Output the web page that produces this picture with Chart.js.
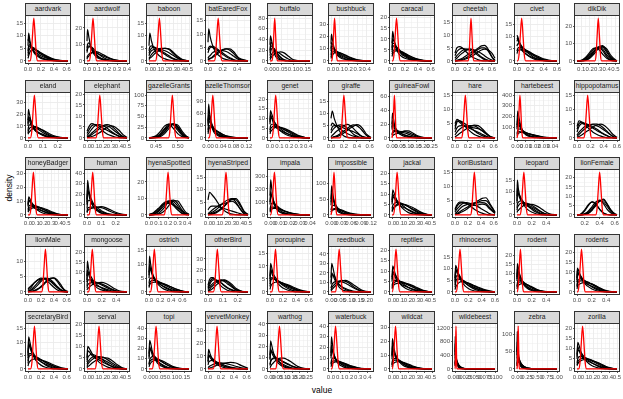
<!DOCTYPE html>
<html>
<head>
<meta charset="utf-8">
<script src="https://cdn.jsdelivr.net/npm/chart.js@4.4.1/dist/chart.umd.min.js"></script>
<style>
html,body{margin:0;padding:0;background:#fff;}
body{width:623px;height:399px;position:relative;overflow:hidden;font-family:"Liberation Sans",Arial,sans-serif;}
.strip{position:absolute;box-sizing:border-box;background:#d9d9d9;border:1px solid #333;display:flex;justify-content:center;align-items:center;overflow:hidden;}
.strip span{flex:0 0 auto;white-space:nowrap;font-size:6.8px;color:#1a1a1a;line-height:1;}
canvas{position:absolute;}
.title{position:absolute;font-size:8.5px;color:#000;white-space:nowrap;transform-origin:center center;}
</style>
</head>
<body>
<div class="title" style="left:322px;top:390px;transform:translate(-50%,-50%);">value</div>
<div class="title" style="left:9px;top:188px;transform:translate(-50%,-50%) rotate(-90deg);">density</div>
<script>
const animals = ['aardvark','aardwolf','baboon','batEaredFox','buffalo','bushbuck','caracal','cheetah','civet','dikDik',
'eland','elephant','gazelleGrants','gazelleThomsons','genet','giraffe','guineaFowl','hare','hartebeest','hippopotamus',
'honeyBadger','human','hyenaSpotted','hyenaStriped','impala','impossible','jackal','koriBustard','leopard','lionFemale',
'lionMale','mongoose','ostrich','otherBird','porcupine','reedbuck','reptiles','rhinoceros','rodent','rodents',
'secretaryBird','serval','topi','vervetMonkey','warthog','waterbuck','wildcat','wildebeest','zebra','zorilla'];

const xTickLabels = [
['0.0','0.2','0.4','0.6'],['0.0','0.1','0.2','0.3','0.4'],['0.0','0.1','0.2','0.3','0.4','0.5'],['0.0','0.2','0.4'],['0.00','0.05','0.10','0.15'],
['0.0','0.1','0.2','0.3','0.4'],['0.0','0.2','0.4','0.6'],['0.0','0.2','0.4','0.6'],['0.0','0.2','0.4','0.6'],['0.1','0.2','0.3','0.4','0.5'],
['0.0','0.1','0.2'],['0.0','0.1','0.2','0.3','0.4','0.5'],['0.45','0.50'],['0.00','0.04','0.08','0.12'],['0.0','0.1','0.2','0.3','0.4'],
['0.0','0.2','0.4','0.6'],['0.00','0.05','0.10','0.15','0.20','0.25'],['0.0','0.2','0.4','0.6'],['0.00','0.01','0.02','0.03','0.04'],['0.0','0.2','0.4','0.6'],
['0.0','0.1','0.2','0.3','0.4','0.5'],['0.0','0.1','0.2'],['0.0','0.1','0.2','0.3','0.4'],['0.0','0.1','0.2','0.3','0.4','0.5'],['0.00','0.01','0.02','0.03','0.04'],
['0.00','0.03','0.06','0.09','0.12'],['0.0','0.1','0.2','0.3','0.4','0.5'],['0.0','0.2','0.4','0.6'],['0.0','0.2','0.4'],['0.2','0.4','0.6'],
['0.0','0.2','0.4','0.6'],['0.0','0.2','0.4'],['0.0','0.2','0.4','0.6'],['0.0','0.1','0.2'],['0.0','0.2','0.4','0.6'],
['0.00','0.05','0.10','0.15','0.20'],['0.0','0.1','0.2','0.3','0.4','0.5'],['0.0','0.2','0.4','0.6'],['0.0','0.2','0.4'],['0.0','0.2','0.4'],
['0.0','0.2','0.4','0.6'],['0.0','0.1','0.2','0.3','0.4','0.5'],['0.00','0.05','0.10','0.15'],['0.0','0.2','0.4','0.6'],['0.00','0.05','0.10','0.15','0.20','0.25'],
['0.0','0.1','0.2','0.3','0.4'],['0.0','0.1','0.2','0.3','0.4','0.5'],['0.000','0.025','0.050','0.075','0.100'],['0.00','0.25','0.50','0.75','1.00'],['0.0','0.1','0.2','0.3','0.4','0.5']
];

const yTickLabels = [
['0','5','10','15'],['0','10','20'],['0','5','10','15'],['0','5','10','15'],['0','20','40','60','80'],
['0','10','20','30'],['0','5','10','15','20'],['0','5','10','15'],['0','5','10','15'],['0','10','20'],
['0','10','20','30'],['0','5','10','15','20'],['0','25','50','75','100'],['0','30','60','90'],['0','5','10','15','20'],
['0','5','10','15'],['0','20','40','60'],['0','5','10','15'],['0','100','200','300','400'],['0','5','10','15'],
['0','10','20','30'],['0','10','20','30','40'],['0','10','20'],['0','5','10','15'],['0','100','200','300'],
['0','50','100'],['0','5','10','15','20'],['0','5','10','15'],['0','5','10','15'],['0','5','10','15','20'],
['0','5','10'],['0','5','10','15','20'],['0','5','10','15'],['0','10','20','30'],['0','5','10','15'],
['0','10','20','30','40'],['0','5','10','15','20'],['0','5','10','15'],['0','5','10','15','20'],['0','5','10','15','20'],
['0','5','10','15'],['0','5','10','15','20'],['0','10','20','30','40'],['0','10','20','30'],['0','10','20','30','40'],
['0','10','20','30','40'],['0','10','20','30'],['0','400','800','1200'],['0','50','100'],['0','5','10','15','20']
];

// x positions of the black (posterior) density curves, one grid per panel
const curveX = [
[0,0.01,0.03,0.06,0.1,0.15,0.2,0.3,0.4,0.5,0.62],
[0,0.005,0.02,0.04,0.07,0.1,0.14,0.2,0.26,0.32,0.4],
[0,0.01,0.03,0.06,0.1,0.15,0.2,0.25,0.3,0.35,0.42,0.5],
[0,0.01,0.03,0.06,0.1,0.15,0.2,0.25,0.3,0.35,0.42,0.55],
[0,0.002,0.006,0.012,0.02,0.03,0.045,0.06,0.08,0.1,0.13,0.17],
[0,0.005,0.015,0.03,0.05,0.08,0.12,0.17,0.23,0.3,0.38,0.45],
[0,0.01,0.03,0.06,0.1,0.15,0.2,0.28,0.36,0.45,0.53,0.62],
[0,0.03,0.07,0.12,0.18,0.25,0.32,0.38,0.43,0.48,0.54,0.6,0.65],
[0,0.01,0.03,0.06,0.1,0.15,0.2,0.27,0.35,0.43,0.52,0.6],
[0.05,0.1,0.15,0.2,0.25,0.3,0.35,0.4,0.45,0.5,0.52],
[0,0.003,0.01,0.02,0.035,0.05,0.07,0.1,0.13,0.17,0.22,0.27],
[0,0.03,0.06,0.1,0.15,0.2,0.25,0.3,0.35,0.4,0.45,0.5],
[0.434,0.45,0.46,0.47,0.48,0.49,0.5,0.51,0.52,0.526],
[0,0.002,0.005,0.01,0.015,0.02,0.03,0.04,0.05,0.065,0.08,0.1,0.125],
[0,0.005,0.02,0.04,0.07,0.1,0.14,0.19,0.25,0.31,0.37,0.42],
[0,0.02,0.05,0.1,0.15,0.2,0.25,0.3,0.35,0.4,0.45,0.5,0.55,0.62],
[0,0.003,0.008,0.015,0.025,0.04,0.06,0.08,0.1,0.13,0.16,0.2,0.25],
[0,0.03,0.07,0.12,0.18,0.24,0.3,0.36,0.42,0.48,0.55,0.62],
[0,0.0008,0.002,0.004,0.006,0.009,0.013,0.018,0.024,0.03,0.037,0.045],
[0,0.03,0.07,0.12,0.18,0.24,0.3,0.36,0.42,0.48,0.54,0.6],
[0,0.01,0.03,0.06,0.1,0.15,0.2,0.26,0.32,0.38,0.45,0.52],
[0,0.004,0.012,0.025,0.04,0.06,0.08,0.1,0.13,0.16,0.2,0.24,0.28],
[0,0.05,0.1,0.14,0.18,0.22,0.26,0.3,0.34,0.38,0.42],
[0,0.02,0.05,0.1,0.15,0.2,0.25,0.3,0.35,0.4,0.45,0.5],
[0,0.0007,0.0018,0.0035,0.006,0.009,0.013,0.018,0.024,0.03,0.04],
[0,0.002,0.005,0.01,0.015,0.02,0.03,0.04,0.05,0.065,0.08,0.1,0.12],
[0,0.01,0.03,0.06,0.1,0.15,0.2,0.26,0.32,0.38,0.44,0.5],
[0,0.03,0.07,0.12,0.18,0.24,0.3,0.36,0.42,0.48,0.54,0.62],
[0,0.005,0.02,0.05,0.09,0.14,0.2,0.26,0.32,0.38,0.45,0.55],
[0.1,0.15,0.2,0.25,0.3,0.35,0.4,0.45,0.5,0.55,0.6,0.63],
[0,0.05,0.1,0.15,0.2,0.25,0.3,0.35,0.4,0.45,0.5,0.56,0.62],
[0,0.005,0.02,0.05,0.09,0.14,0.2,0.26,0.32,0.38,0.45,0.55],
[0,0.01,0.03,0.06,0.1,0.15,0.2,0.27,0.35,0.43,0.52,0.62,0.72],
[0,0.01,0.02,0.035,0.05,0.07,0.09,0.11,0.13,0.16,0.19,0.23,0.27],
[0,0.01,0.03,0.06,0.1,0.15,0.2,0.27,0.35,0.43,0.52,0.62],
[0,0.004,0.01,0.02,0.03,0.045,0.06,0.08,0.1,0.12,0.15,0.18,0.22],
[0,0.01,0.03,0.06,0.1,0.15,0.2,0.26,0.32,0.38,0.44,0.5],
[0,0.01,0.03,0.06,0.1,0.15,0.2,0.27,0.35,0.43,0.52,0.6],
[0,0.005,0.02,0.04,0.07,0.1,0.14,0.19,0.25,0.32,0.42,0.55],
[0,0.005,0.02,0.05,0.09,0.14,0.2,0.26,0.32,0.38,0.45,0.55],
[0,0.01,0.03,0.06,0.1,0.15,0.2,0.27,0.35,0.43,0.52,0.62],
[0,0.01,0.03,0.06,0.1,0.15,0.2,0.26,0.32,0.38,0.44,0.5],
[0,0.003,0.008,0.015,0.025,0.035,0.05,0.065,0.08,0.1,0.13,0.17],
[0,0.01,0.03,0.06,0.1,0.15,0.2,0.27,0.35,0.43,0.52,0.62],
[0,0.004,0.01,0.02,0.035,0.05,0.07,0.09,0.12,0.15,0.19,0.23,0.27],
[0,0.005,0.015,0.03,0.05,0.08,0.12,0.17,0.23,0.3,0.37,0.44],
[0,0.005,0.02,0.04,0.07,0.1,0.14,0.19,0.25,0.32,0.4,0.5],
[0,0.0005,0.0012,0.0025,0.004,0.006,0.009,0.013,0.018,0.025,0.035,0.05,0.07,0.1],
[0,0.005,0.015,0.03,0.05,0.08,0.12,0.18,0.26,0.36,0.5,0.7,1.0],
[0,0.01,0.03,0.06,0.1,0.15,0.2,0.26,0.32,0.38,0.44,0.5]
];

// density values of the black curves at curveX, per panel
const blackCurves = [
[[6,11,8,5,3,1.8,1,0.4,0.1,0,0],[8,9,7,5,3.5,2.2,1.4,0.5,0.1,0,0],[3,5,6,5.5,4.5,3.5,2.6,1.2,0.4,0.1,0],[2,3.5,5,5.5,5,4,3,1.5,0.5,0.1,0],[4,6,6.5,5,3.5,2.8,2,1,0.3,0,0],[1,2,3.5,4.5,4.5,4,3.2,1.8,0.7,0.2,0]],
[[12,19,14,8,4,2,1,0.3,0.1,0,0],[8,9,9,8.5,6,3.5,1.5,0.4,0.1,0,0],[5,7,8.5,8.5,7,5,3,1,0.2,0,0],[1,2,3,4.5,5.5,5.5,4.5,2.5,1,0.2,0],[2,3,4,5,5,4.5,3.5,2,0.8,0.2,0],[6,10,11,8,5,3,1.5,0.5,0.1,0,0]],
[[6,11,8,5,3,1.5,0.8,0.3,0.1,0,0,0],[3,4,5,5.5,5,4,3,2,1,0.4,0.1,0],[1,1.5,2.5,3.5,4.5,5,5,4.5,3,1.5,0.3,0],[0.5,1,1.5,2.5,3.5,4.5,5,4.8,3.5,2,0.5,0],[4,5.5,6,5.5,4.5,3.5,2.5,1.5,0.8,0.3,0.05,0],[2,3,4,4.5,4.8,4.5,4,3.2,2.2,1.2,0.3,0]],
[[7,12,9,6,3.5,2,1,0.5,0.2,0,0,0],[4,5,5.5,5,4.5,3.5,2.5,1.5,0.8,0.3,0.05,0],[0.5,0.8,1,1.5,2.5,3.5,4.2,4.5,4,2.8,0.8,0],[0.3,0.5,0.8,1.2,2,3,4,4.5,4.5,3.5,1.2,0],[3,4,5,5.5,5,4,3,2,1.2,0.5,0.1,0],[1,1.5,2,3,3.5,3.8,3.8,3.5,2.8,1.8,0.5,0]],
[[30,47,40,25,12,5,2,0.5,0.1,0,0,0],[20,30,35,28,18,9,3,1,0.2,0,0,0],[10,15,22,25,22,15,7,2,0.5,0,0,0],[2,4,7,10,13,15,17,15,8,2,0.2,0],[15,25,28,25,18,12,6,2,0.5,0.1,0,0],[5,8,12,16,18,17,13,8,3,0.8,0,0]],
[[14,22,18,12,7,4,2,1,0.3,0.05,0,0],[10,15,14,11,8,5,3,1.5,0.5,0.1,0,0],[5,8,10,10,9,7,5,3,1.2,0.3,0,0],[3,5,7,8,8,7,6,4,2,0.6,0.1,0],[8,12,12,10,8,6,4,2.5,1,0.3,0.05,0],[2,3,4.5,6,7,7,6,4.5,2.5,0.8,0.1,0]],
[[8,13.5,10,6,3.5,2,1.2,0.5,0.2,0,0,0],[6,10,9,7,5,3,2,0.8,0.3,0.1,0,0],[4,6,7,6.5,5.5,4,3,1.5,0.6,0.2,0,0],[2,3,4,4.5,4.5,4,3.2,2,1,0.4,0.1,0],[5,8,8,6,4.5,3.5,2.5,1.2,0.5,0.1,0,0],[3,4,5,5,4.8,4.2,3.5,2.2,1.2,0.5,0.1,0]],
[[3,5,5.5,5,3.5,2,1,0.4,0.1,0,0,0,0],[1,2,3,4,4.5,4.5,3.5,2.5,1.5,0.8,0.2,0,0],[0,0.2,0.5,1,2,3,4,5,5.8,6,4.5,1.5,0],[0,0.1,0.3,0.6,1.2,2.2,3.5,4.5,5,5,3.8,1.5,0.2],[2,3.5,4.5,4.8,4.5,4,3,2,1.2,0.5,0.1,0,0],[0.5,1,2,3,4,4.5,4.2,3.5,2.8,2,1,0.3,0],[0,0,0.1,0.3,0.8,1.5,2.5,3.5,4.2,4.5,4.2,3,1]],
[[10.5,10,8,6,4,2.5,1.5,0.6,0.2,0,0,0],[8,9,8,6.5,5,3.5,2.5,1.2,0.4,0.1,0,0],[6,7,7,6,5,4,3,1.8,0.8,0.2,0,0],[4,5,5.5,5.5,5,4.2,3.5,2.2,1,0.3,0,0],[9,9.5,7,5,3.5,2.5,1.8,1,0.4,0.1,0,0],[3,4,4.5,4.5,4.2,3.8,3.2,2.4,1.4,0.6,0.1,0]],
[[0,0.2,1.5,4,7,8,6,2.5,0.5,0,0],[0,0.1,0.5,2,5,8,9,6,2,0.3,0],[0,0.3,2,5,7.5,7,4,1.5,0.3,0,0],[0,0,0.3,1.5,4,7,8.5,7,3,0.6,0],[0,0.1,1,3,6,8,7,3.5,1,0.1,0],[0,0.05,0.5,2.5,5.5,7.5,8,5,1.5,0.2,0]],
[[15,24,20,14,9,6,4,2,0.8,0.2,0,0],[10,16,17,14,10,7,4.5,2.5,1,0.3,0,0],[6,9,11,11,10,9,7,4.5,2.5,0.8,0.1,0],[4,6,8,9,9.5,9.5,8.5,6,3.5,1.2,0.2,0],[12,18,15,11,8,6,4.5,3,1.5,0.5,0.1,0],[3,4,5,6.5,8,8.5,8,6.5,4.5,2,0.4,0]],
[[3,5.5,6.5,6,4.5,3,1.8,1,0.4,0.1,0,0],[1,2.5,4,5.5,6,5.5,4.5,3,1.8,0.8,0.2,0],[0.3,0.8,1.5,2.5,4,5.5,6,5.5,4,2,0.6,0],[0.1,0.3,0.6,1.2,2.2,3.5,4.8,5.5,5,3.5,1.5,0.2],[2,4,5.5,6,5.5,4.5,3.5,2.5,1.5,0.7,0.2,0],[0.5,1.2,2.2,3.5,5,5.5,5.5,4.5,3,1.6,0.5,0]],
[[0,3,10,22,32,30,18,6,1,0],[0,1,5,14,27,33,25,10,2,0],[0,5,15,28,32,22,10,3,0.5,0],[0,0.5,3,10,22,32,30,16,4,0.5],[0,2,8,20,30,32,22,8,1.5,0],[0,1.5,6,16,28,33,26,12,3,0.2]],
[[40,83,60,35,20,12,6,3,1.5,0.5,0.1,0,0],[30,55,55,40,28,18,9,4,2,0.6,0.1,0,0],[20,35,40,35,28,22,14,8,4,1.2,0.3,0,0],[10,18,25,28,26,22,16,11,7,3,1,0.2,0],[35,60,45,30,22,16,10,6,3.5,1.5,0.4,0,0],[15,25,30,28,24,20,15,11,7,3.5,1.2,0.2,0]],
[[9,14,12,9,6,4,2.5,1.2,0.4,0.1,0,0],[7,10,10,8.5,6.5,5,3.5,2,0.8,0.2,0,0],[4,6,7,7,6.5,5.5,4.5,3,1.5,0.5,0.1,0],[2,3,4,5,5.5,5.5,5,4,2.5,1,0.2,0],[8,12,10,7,5,4,3,2,1,0.3,0,0],[3,4.5,5.5,6,6,5.5,4.5,3.5,2,0.8,0.2,0]],
[[8,11,8,4.5,2,0.8,0.3,0.1,0,0,0,0,0,0],[2,3,4,5,5.3,5,4,2.8,1.5,0.7,0.2,0,0,0],[0.5,1,1.8,3,4,5,5.5,5,3.8,2.4,1.2,0.4,0.1,0],[0,0.2,0.5,1,1.8,2.8,3.8,4.8,5.3,5,4,2.5,1,0],[0,0.1,0.3,0.6,1.2,2,3,4,4.8,5.4,5,3.5,1.5,0.2],[3,4.5,5,5,4.5,4,3.5,3,2.5,1.8,1,0.4,0.1,0],[5,6,5.5,4.5,3.5,2.5,1.8,1.2,0.7,0.3,0.1,0,0,0]],
[[20,36,30,20,12,7,4,2,1,0.3,0,0,0],[12,20,22,18,13,9,6,4,2.5,1,0.3,0,0],[5,8,10,11,11,10,9,9,8,5,2,0.3,0],[2,3,4,5,6,7,8.5,10,10,7,3,0.5,0],[15,25,20,14,10,8,6,4,2.5,1.2,0.4,0,0],[4,6,8,9,9,8.5,8,7,5.5,3,1,0.1,0]],
[[5,6.5,6,5,3.5,2.2,1.2,0.6,0.2,0,0,0],[3,5.5,6,5.5,4.5,3.5,2.5,1.5,0.8,0.3,0,0],[1,2,3,3.8,4.2,4.3,4.2,3.5,2.5,1.4,0.4,0],[0.3,0.8,1.5,2.3,3.2,4,4.5,4.3,3.2,1.8,0.5,0],[4,6,5.5,4.5,3.8,3.2,2.6,2,1.3,0.6,0.1,0],[2,3.5,4.2,4.3,4,3.7,3.5,3.2,2.5,1.5,0.4,0]],
[[120,250,200,120,70,35,15,5,1,0,0,0],[80,150,150,110,75,45,22,8,2,0.3,0,0],[40,70,85,80,70,55,38,22,10,3,0.5,0],[20,35,45,50,50,45,38,28,16,6,1,0],[100,180,130,90,60,40,25,12,4,1,0,0],[30,50,60,62,58,50,40,30,18,8,2,0]],
[[4,6,5.5,4.5,3.2,2,1.2,0.6,0.2,0,0,0],[2,4,5,5,4.5,3.8,3,2,1.2,0.5,0.1,0],[0.5,1.2,2.2,3.2,4.2,4.8,4.8,4.2,3,1.6,0.5,0],[0.2,0.5,1,1.8,2.8,3.8,4.5,4.8,4.2,2.8,1.2,0.2],[3,5,5.5,5,4.2,3.4,2.5,1.8,1,0.4,0.1,0],[1,2,3,4,4.6,4.6,4.2,3.5,2.5,1.4,0.5,0]],
[[8,13,11,7,4.5,2.5,1.2,0.5,0.1,0,0,0],[6,10,10,8,6,4,2.5,1.2,0.4,0.1,0,0],[4,6,7,7,6.5,5.5,4,2.2,1,0.3,0,0],[2,3,4,5,5.5,5.5,4.8,3.5,2,0.8,0.1,0],[7,11,9,6,4.5,3.5,2.5,1.5,0.7,0.2,0,0],[3,4.5,5.5,6,6,5,4,2.8,1.5,0.6,0.1,0]],
[[15,33,25,15,9,5,3,1.5,0.5,0.1,0,0,0],[10,22,22,17,12,7,4,2,0.7,0.2,0,0,0],[6,12,14,13,11,8,6,4,2,0.8,0.2,0,0],[2,4,5,6,6.5,7,7.5,8,7,5,2.5,0.8,0],[12,26,20,13,9,6,4.5,3,1.5,0.6,0.1,0,0],[3,6,7,7.5,7.5,7.5,7.5,7,5.5,3.5,1.5,0.4,0]],
[[0,0.5,2.5,5.5,8,8.5,6.5,3.5,1.2,0.3,0],[0,0.2,1,3,6,8.5,9,7,3.5,1,0.1],[0.1,1,3.5,6.5,8,7.5,5.5,3,1.2,0.3,0],[0,0.1,0.5,1.5,3.5,6.5,8.5,8.5,5.5,2,0.3],[0,0.4,2,4.5,7,8.5,8,5.5,2.5,0.7,0.1],[0.2,1.5,4,6,7,7,6,4.5,2.5,1,0.2]],
[[6,9,8,6,3.5,1.8,0.8,0.3,0.1,0,0,0],[2,3,3.5,3.5,3,2.5,2,1.5,1,0.5,0.1,0],[0.2,0.5,1,2,3.5,5,6,6.5,5,2.5,0.5,0],[0.1,0.3,0.6,1.2,2.2,3.5,5,6.2,6,3.8,1.2,0.1],[0.5,1,1.8,3,4,4.5,5,5.5,4.5,2.5,0.6,0],[0,0.1,0.3,0.8,1.8,3.2,5,6.5,6.5,4.5,1.5,0.2]],
[[150,270,200,110,55,25,10,3,0.5,0,0],[80,140,150,110,70,40,20,8,2,0.3,0],[40,70,90,90,75,55,35,18,6,1.5,0],[20,35,45,50,50,45,35,22,10,3,0.2],[100,180,140,90,55,30,15,6,1.5,0.2,0],[30,50,60,60,55,45,32,20,8,2,0]],
[[50,92,70,40,22,12,5,2,0.5,0,0,0,0],[30,55,55,42,30,20,9,4,1.5,0.3,0,0,0],[15,25,30,30,27,22,14,8,4,1,0.2,0,0],[8,12,15,17,18,17,14,10,6,2.5,0.8,0.1,0],[40,70,55,35,22,15,8,4,2,0.5,0.1,0,0],[10,15,18,20,20,19,16,12,8,4,1.5,0.2,0]],
[[7,12,10,7,4.5,2.5,1.2,0.5,0.1,0,0,0],[5,8,8.5,7,5.5,4,2.5,1.2,0.4,0.1,0,0],[3,4.5,5.5,6,5.8,5,4,2.5,1.2,0.4,0.1,0],[1.5,2.5,3.5,4.5,5,5,4.5,3.5,2.2,1,0.3,0],[6,10,8,6,4.5,3.5,2.5,1.5,0.7,0.2,0,0],[2,3,4,5,5.5,5,4,2.8,1.6,0.7,0.1,0]],
[[2,3.5,4.5,4.5,4,3,2,1.2,0.6,0.2,0,0],[1,2,3,4,4.3,4,3.5,2.8,2,1.2,0.4,0],[0.1,0.3,0.6,1.2,2,3,4,5,5.8,6,4,1],[0.2,0.5,1,1.8,2.6,3.4,4,4.5,5,5,3.5,0.8],[1.5,3,4,4.3,4,3.6,3.3,3.5,3.8,3.5,2,0.5],[0.5,1,2,3,3.6,4,4.2,4.2,4.3,4,2.5,0.6]],
[[8,15,11,7,4.5,2.5,1.2,0.5,0.1,0,0,0],[5,9,9,7.5,5.5,4,2.5,1.2,0.4,0.1,0,0],[2,3,4,5,5.2,5,4.2,3,1.6,0.6,0.1,0],[1,1.5,2,3,4,4.5,4.5,4,3,1.6,0.4,0],[6,12,9,6.5,5,4,3,1.8,0.8,0.2,0,0],[3,4.5,5.5,6,5.5,4.5,3.5,2.5,1.5,0.6,0.1,0]],
[[0,0.3,2,5,7,6,3,1,0.2,0,0,0],[0,0.1,0.6,2,4.5,7,8,6,3,1,0.2,0],[0,0,0.3,1,3,5.5,7.5,8.5,6,2.5,0.5,0.1],[0,0.5,2.5,5.5,7,5.5,3,1,0.2,0,0,0],[0,0,0.2,0.8,2.5,5,7.5,8,5.5,2.5,0.6,0.1],[0,0.1,0.5,1.5,3.5,6,7.5,7,4.5,1.8,0.3,0]],
[[0.5,1.5,3,4,4.5,4.3,3.5,2.5,1.5,0.7,0.2,0,0],[0.1,0.5,1.2,2.2,3.4,4.3,4.5,4,3,1.8,0.8,0.2,0],[0,0.2,0.5,1,1.8,2.8,3.8,4.5,4.5,3.5,2,0.5,0],[1,2,3,3.8,4.2,4.3,4,3.5,2.8,1.8,0.9,0.2,0],[0.2,0.8,1.8,3,4,4.5,4.2,3.4,2.4,1.4,0.6,0.1,0],[0,0.1,0.3,0.8,1.5,2.5,3.5,4.3,4.6,4,2.6,0.8,0.1]],
[[8,15.5,12,7,4,2,1,0.4,0.1,0,0,0],[5,9,10,8,5.5,3.5,2,0.9,0.3,0.1,0,0],[2,3,4,4.5,4.8,4.5,4,3,1.8,0.8,0.2,0],[1,1.5,2,3,4,4.6,4.8,4.2,3,1.6,0.4,0],[6,11,9,6,4,3,2.2,1.4,0.7,0.2,0,0],[3,5,6,6,5.5,4.5,3.5,2.4,1.4,0.6,0.1,0]],
[[7,13,10,7,4.5,3,2,1,0.4,0.1,0,0,0],[5,8,8,6.5,5,3.8,2.8,1.8,0.9,0.3,0.1,0,0],[3,4.5,5,5,4.6,4,3.4,2.6,1.8,1,0.4,0.1,0],[1.5,2.5,3,3.4,3.5,3.4,3.2,2.8,2.2,1.5,0.8,0.2,0],[6,10,8,6,4.5,3.5,2.7,1.9,1.2,0.6,0.2,0,0],[2,3,3.8,4.2,4.2,3.9,3.5,2.9,2.2,1.5,0.7,0.2,0]],
[[6,11,13,13,11,8,5,3,1.5,0.5,0.1,0,0],[3,6,9,11,11,10,8,5.5,3.5,1.5,0.5,0,0],[1,2,4,6,8,10,11,10.5,9,5.5,2,0.3,0],[0.5,1,2,3.5,5.5,8,10,11,10,7,3,0.5,0],[4,8,11,12,11,9.5,8,6,4,2,0.6,0.1,0],[2,4,6,8,9.5,10.5,10.5,9.5,7.5,4.5,1.8,0.3,0]],
[[6,11,9,6,4,2.5,1.5,0.7,0.2,0,0,0],[4,8,8,6.5,5,3.6,2.5,1.4,0.6,0.2,0,0],[2,4,5,5,4.6,4,3.3,2.4,1.4,0.6,0.1,0],[1,2,3,3.5,3.8,3.7,3.4,2.8,2,1.1,0.4,0],[5,9,7,5.5,4.4,3.5,2.8,1.9,1.1,0.5,0.1,0],[3,5,5.5,5,4.4,3.8,3.2,2.4,1.6,0.8,0.2,0]],
[[15,30,26,17,10,5,2.5,1,0.3,0,0,0,0],[8,15,18,16,12,8,5,2.5,1,0.3,0,0,0],[2,4,6,8,10,11.5,12,11,9,6,2.5,0.5,0],[1,2,3.5,5.5,7.5,10,11.5,12,10.5,8,4,1,0],[10,20,18,13,10,7.5,5.5,3.5,2,0.8,0.2,0,0],[4,7,9,10.5,11,11,10.5,9,7,4.5,1.8,0.3,0]],
[[7,12.5,10,6.5,4,2.2,1.1,0.4,0.1,0,0,0],[5,8.5,8.5,7,5,3.5,2.2,1.1,0.4,0.1,0,0],[3,4.5,5.5,5.5,5,4.2,3.3,2.2,1.1,0.4,0.1,0],[1.5,2.5,3.5,4,4.3,4.2,3.8,3,1.9,0.9,0.3,0],[6,10,8,5.5,4,3,2.2,1.3,0.6,0.2,0,0],[2,3.5,4.5,5,5,4.5,3.6,2.6,1.5,0.7,0.2,0]],
[[6,11.5,10,7,4.5,2.6,1.5,0.6,0.2,0,0,0],[4,8,9,7.5,5.5,4,2.8,1.5,0.6,0.2,0,0],[3,5.5,7,6.5,5.5,4.5,3.5,2.2,1.2,0.5,0.1,0],[1,2,3,4,4.4,4.2,3.8,3,2,1.1,0.4,0],[5,10,8.5,6.5,5,3.8,2.9,1.9,1,0.4,0.1,0],[2,4,5.5,5.5,5,4.4,3.7,2.7,1.7,0.8,0.2,0]],
[[8,15.5,13,9,5.5,3.5,2,0.9,0.3,0.05,0,0],[6,11,11,9,6.5,4.5,2.8,1.4,0.5,0.1,0,0],[3,5,6.5,6.5,6,5,3.8,2.4,1.2,0.4,0,0],[1.5,2.5,3.5,4.2,4.5,4.4,4,3,1.8,0.7,0.1,0],[7,13,10,7,5,3.8,2.7,1.6,0.7,0.2,0,0],[2.5,4,5,5.5,5.3,4.8,3.9,2.8,1.5,0.5,0.05,0]],
[[7,12,11,8,5,3,1.6,0.7,0.2,0,0,0],[5,9,9.5,8,6,4,2.6,1.4,0.6,0.1,0,0],[3,5,6,6.5,6,5,3.8,2.6,1.4,0.5,0.1,0],[1.5,2.5,3.5,4.2,4.6,4.5,4,3,1.9,0.9,0.2,0],[6,11,9,7,5.2,4,2.9,1.9,1,0.3,0,0],[2.5,4,5,5.5,5.5,5,4,2.9,1.7,0.7,0.1,0]],
[[6,12,10,6.5,4,2.4,1.4,0.6,0.2,0,0,0],[4,8,8.5,7,5.2,3.8,2.7,1.5,0.6,0.2,0,0],[2,4,5,5.2,4.8,4.2,3.5,2.5,1.5,0.7,0.1,0],[1,2,2.8,3.4,3.7,3.7,3.4,2.8,2,1.1,0.4,0],[5,10,8,6,4.5,3.5,2.7,1.8,1,0.4,0.1,0],[3,5,5.8,5.5,4.8,4,3.3,2.4,1.5,0.7,0.2,0]],
[[5,10,9,7,5,3,1.8,0.8,0.2,0,0,0],[3,5,6,6.5,6,5,3.8,2.2,1,0.3,0,0],[1,2,3,4,5,5.5,5.2,4,2.5,1.2,0.3,0],[0.5,1,1.5,2.5,3.5,4.5,5,4.8,3.5,1.8,0.5,0],[4,8,7.5,6,5,4,3,1.8,0.9,0.3,0,0],[2,3,4,5,5.5,5,4.2,3,1.7,0.7,0.1,0]],
[[15,28,24,16,10,6,3,1.4,0.5,0.1,0,0],[10,18,19,16,12,8,4.5,2.2,1,0.3,0,0],[5,9,11,12,11.5,10,8,5.5,3.5,1.5,0.3,0],[2,4,6,7.5,8.5,9,8.5,7,5,2.5,0.6,0],[12,22,18,13,10,7.5,5,3,1.6,0.6,0.1,0],[4,7,8.5,9.5,9.5,9,7.5,5.5,3.5,1.6,0.4,0]],
[[8,15,12,8,5,3,1.8,0.8,0.3,0.1,0,0],[5,9,10,8.5,6.5,4.5,3,1.6,0.7,0.2,0,0],[3,5,6,6.5,6,5,4,2.6,1.4,0.6,0.1,0],[0.2,0.4,0.7,1.2,2,3,3.8,4.5,5,4.5,2.5,0.5],[6,11,9,7,5.5,4.2,3.2,2,1,0.4,0.1,0],[1,1.5,2.2,3,3.8,4.4,4.6,4.2,3.2,2,0.8,0.1]],
[[12,25,22,16,10,6,3.5,2,0.8,0.2,0,0,0],[8,15,16,14,11,8,5,3,1.3,0.5,0.1,0,0],[3,6,8,9.5,10,9.5,8,6.5,4.5,2.5,0.8,0.1,0],[1,2,3.5,5,7,8.5,9.5,9.5,8,5.5,2,0.4,0],[9,18,15,12,9.5,7.5,5.5,3.8,2,0.8,0.2,0,0],[4,7,8.5,9,9,8.5,7.5,6,4,2.2,0.7,0.1,0]],
[[15,30,24,15,9,5,2.5,1,0.3,0,0,0],[10,18,18,14,10,6.5,3.8,1.8,0.6,0.1,0,0],[5,8,10,10,9,7.5,5.5,3.5,1.6,0.5,0.1,0],[2,3.5,5,6,6.5,6.5,6,4.5,2.5,1,0.2,0],[12,22,17,12,9,6.5,4.5,2.7,1.2,0.3,0,0],[4,6,7,7.5,7.5,7,6,4.2,2.3,0.8,0.1,0]],
[[10,22,17,11,7,4.5,2.5,1.2,0.4,0.1,0,0],[7,13,13,10.5,7.5,5.5,3.5,1.8,0.7,0.2,0,0],[3,6,7.5,7.5,7,6,4.5,3,1.5,0.5,0.1,0],[1.5,3,4,4.8,5.2,5.2,4.7,3.7,2.3,1,0.2,0],[9,17,13,9,6.5,5,3.5,2.2,1,0.3,0,0],[3,5,6,6.3,6,5.5,4.5,3.2,1.8,0.7,0.1,0]],
[[500,950,700,400,220,110,45,15,4,1,0,0,0,0],[300,550,550,420,280,160,70,25,8,2,0,0,0,0],[150,280,330,320,270,200,120,55,20,5,1,0,0,0],[80,150,190,210,200,170,120,70,30,9,2,0,0,0],[400,750,560,350,220,130,60,22,7,2,0,0,0,0],[120,220,260,260,230,180,120,65,25,7,1,0,0,0]],
[[50,110,80,45,22,10,4,1.2,0.3,0,0,0,0],[30,60,65,50,32,17,8,3,0.8,0.2,0,0,0],[15,28,35,35,30,22,13,6,2,0.5,0.1,0,0],[8,14,18,20,20,17,12,7,3,1,0.3,0.05,0],[40,80,60,40,25,14,7,2.5,0.7,0.1,0,0,0],[10,18,22,24,22,18,12,6,2.5,0.8,0.2,0,0]],
[[7,13,11,7,4.5,2.5,1.3,0.5,0.1,0,0,0],[5,9,9,7.5,5.5,4,2.6,1.3,0.5,0.1,0,0],[3,5,6,6,5.5,4.6,3.6,2.4,1.2,0.4,0.1,0],[1.5,2.5,3.5,4.2,4.6,4.5,4,3.1,2,0.9,0.3,0],[6,11,8.5,6,4.5,3.5,2.6,1.6,0.8,0.2,0,0],[2,3.5,4.5,5,5.2,4.8,4,2.9,1.7,0.7,0.2,0]]
];

// red (reference) density curve of each panel as [x, density] points
const redCurves = [
[[0,0],[0.03,0],[0.05,2.3],[0.07,10.2],[0.09,17],[0.11,10.2],[0.13,2.3],[0.15,0],[0.62,0]],
[[0,0],[0.021,0],[0.034,3.5],[0.047,15.6],[0.06,26],[0.073,15.6],[0.086,3.5],[0.099,0],[0.4,0]],
[[0,0],[0.0805,0],[0.097,2.3],[0.1135,10.2],[0.13,17],[0.1465,10.2],[0.163,2.3],[0.1795,0],[0.5,0]],
[[0,0],[0.086,0],[0.104,2.2],[0.122,9.6],[0.14,16],[0.158,9.6],[0.176,2.2],[0.194,0],[0.55,0]],
[[0,0],[0.008,0],[0.012,10.8],[0.016,48],[0.02,80],[0.024,48],[0.028,10.8],[0.032,0],[0.17,0]],
[[0,0],[0.007,0],[0.018,4.7],[0.029,21],[0.04,35],[0.051,21],[0.062,4.7],[0.073,0],[0.45,0]],
[[0,0],[0.01,0],[0.03,2.6],[0.05,11.7],[0.07,19.5],[0.09,11.7],[0.11,2.6],[0.13,0],[0.62,0]],
[[0,0],[0.212,0],[0.228,2.2],[0.244,9.9],[0.26,16.5],[0.276,9.9],[0.292,2.2],[0.308,0],[0.65,0]],
[[0,0],[0.01,0],[0.03,2.4],[0.05,10.5],[0.07,17.5],[0.09,10.5],[0.11,2.4],[0.13,0],[0.6,0]],
[[0.05,0],[0.261,0],[0.274,3.4],[0.287,15],[0.3,25],[0.313,15],[0.326,3.4],[0.339,0],[0.52,0]],
[[0,0],[0.016,0],[0.025,4.9],[0.034,21.6],[0.043,36],[0.052,21.6],[0.061,4.9],[0.07,0],[0.27,0]],
[[0,0],[0.1105,0],[0.127,2.6],[0.1435,11.7],[0.16,19.5],[0.1765,11.7],[0.193,2.6],[0.2095,0],[0.5,0]],
[[0.434,0],[0.4787,0],[0.4817,13.5],[0.4847,60],[0.4877,100],[0.4907,60],[0.4937,13.5],[0.4967,0],[0.526,0]],
[[0,0],[0.003,0],[0.007,14.2],[0.011,63],[0.015,105],[0.019,63],[0.023,14.2],[0.027,0],[0.125,0]],
[[0,0],[0.018,0],[0.032,3],[0.046,13.2],[0.06,22],[0.074,13.2],[0.088,3],[0.102,0],[0.42,0]],
[[0,0],[0.14,0],[0.16,2.4],[0.18,10.5],[0.2,17.5],[0.22,10.5],[0.24,2.4],[0.26,0],[0.62,0]],
[[0,0],[0.005,8.4],[0.01,37],[0.015,62],[0.02,37],[0.025,8.4],[0.03,0],[0.25,0]],
[[0,0],[0.1,0],[0.12,2],[0.14,9],[0.16,15],[0.18,9],[0.2,2],[0.22,0],[0.62,0]],
[[0,0],[0.0011,54],[0.0022,240],[0.0033,400],[0.0044,240],[0.0055,54],[0.0066,0],[0.045,0]],
[[0,0],[0.1,0],[0.12,2],[0.14,9],[0.16,15],[0.18,9],[0.2,2],[0.22,0],[0.6,0]],
[[0,0],[0.019,0],[0.036,4.2],[0.053,18.6],[0.07,31],[0.087,18.6],[0.104,4.2],[0.121,0],[0.52,0]],
[[0,0],[0.013,0],[0.022,5.5],[0.031,24.6],[0.04,41],[0.049,24.6],[0.058,5.5],[0.067,0],[0.28,0]],
[[0,0],[0.158,0],[0.172,3.5],[0.186,15.6],[0.2,26],[0.214,15.6],[0.228,3.5],[0.242,0],[0.42,0]],
[[0,0],[0.1755,0],[0.192,2.3],[0.2085,10.2],[0.225,17],[0.2415,10.2],[0.258,2.3],[0.2745,0],[0.5,0]],
[[0,0],[0.0005,0],[0.0018,45],[0.0031,198],[0.0044,330],[0.0057,198],[0.007,45],[0.0083,0],[0.04,0]],
[[0,0],[0.003,18],[0.006,81],[0.009,135],[0.012,81],[0.015,18],[0.018,0],[0.12,0]],
[[0,0],[0.0145,0],[0.031,2.8],[0.0475,12.3],[0.064,20.5],[0.0805,12.3],[0.097,2.8],[0.1135,0],[0.5,0]],
[[0,0],[0.24,0],[0.26,2],[0.28,9],[0.3,15],[0.32,9],[0.34,2],[0.36,0],[0.62,0]],
[[0,0],[0.04,0],[0.058,2.5],[0.076,11.1],[0.094,18.5],[0.112,11.1],[0.13,2.5],[0.148,0],[0.55,0]],
[[0.1,0],[0.3475,0],[0.365,3.1],[0.3825,13.8],[0.4,23],[0.4175,13.8],[0.435,3.1],[0.4525,0],[0.63,0]],
[[0,0],[0.21,0],[0.23,1.9],[0.25,8.4],[0.27,14],[0.29,8.4],[0.31,1.9],[0.33,0],[0.62,0]],
[[0,0],[0.019,0],[0.037,2.9],[0.055,12.9],[0.073,21.5],[0.091,12.9],[0.109,2.9],[0.127,0],[0.55,0]],
[[0,0],[0.024,0],[0.048,2.1],[0.072,9.3],[0.096,15.5],[0.12,9.3],[0.144,2.1],[0.168,0],[0.72,0]],
[[0,0],[0.036,0],[0.045,5.3],[0.054,23.4],[0.063,39],[0.072,23.4],[0.081,5.3],[0.09,0],[0.27,0]],
[[0,0],[0.025,0],[0.045,2.2],[0.065,9.9],[0.085,16.5],[0.105,9.9],[0.125,2.2],[0.145,0],[0.62,0]],
[[0,0],[0.0231,0],[0.0304,6.1],[0.0377,27],[0.045,45],[0.0523,27],[0.0596,6.1],[0.0669,0],[0.22,0]],
[[0,0],[0.0005,0],[0.017,2.8],[0.0335,12.3],[0.05,20.5],[0.0665,12.3],[0.083,2.8],[0.0995,0],[0.5,0]],
[[0,0],[0.015,0],[0.035,2.5],[0.055,11.1],[0.075,18.5],[0.095,11.1],[0.115,2.5],[0.135,0],[0.6,0]],
[[0,0],[0.002,0],[0.017,3.2],[0.032,14.1],[0.047,23.5],[0.062,14.1],[0.077,3.2],[0.092,0],[0.55,0]],
[[0,0],[0.008,0],[0.026,2.9],[0.044,12.9],[0.062,21.5],[0.08,12.9],[0.098,2.9],[0.116,0],[0.55,0]],
[[0,0],[0.04,0],[0.06,2.2],[0.08,9.6],[0.1,16],[0.12,9.6],[0.14,2.2],[0.16,0],[0.62,0]],
[[0,0],[0.1005,0],[0.117,2.6],[0.1335,11.4],[0.15,19],[0.1665,11.4],[0.183,2.6],[0.1995,0],[0.5,0]],
[[0,0],[0.0132,0],[0.0188,5.7],[0.0244,25.2],[0.03,42],[0.0356,25.2],[0.0412,5.7],[0.0468,0],[0.17,0]],
[[0,0],[0.08,0],[0.1,4.5],[0.12,19.8],[0.14,33],[0.16,19.8],[0.18,4.5],[0.2,0],[0.62,0]],
[[0,0],[0.037,0],[0.046,5.1],[0.055,22.8],[0.064,38],[0.073,22.8],[0.082,5.1],[0.091,0],[0.27,0]],
[[0,0],[0.0065,0],[0.021,5.4],[0.0355,24],[0.05,40],[0.0645,24],[0.079,5.4],[0.0935,0],[0.44,0]],
[[0,0],[0.0005,0],[0.015,4.2],[0.0295,18.6],[0.044,31],[0.0585,18.6],[0.073,4.2],[0.0875,0],[0.5,0]],
[[0,0],[0.0001,0],[0.0009,169],[0.0017,750],[0.0025,1250],[0.0033,750],[0.0041,169],[0.0049,0],[0.1,0]],
[[0,0],[0.01,17],[0.02,75],[0.03,125],[0.04,75],[0.05,17],[0.06,0],[1.0,0]],
[[0,0],[0.0205,0],[0.037,2.8],[0.0535,12.6],[0.07,21],[0.0865,12.6],[0.103,2.8],[0.1195,0],[0.5,0]]
];

Chart.defaults.font.family = '"Liberation Sans", Arial, sans-serif';
const COL_LEFT = [26,85,147,206,268,329,390,453,515,575];
const PW = 44, YAXW = 24, PADR = 12, PADT = 5, XAXH = 12, STRIP_H = 13;

function mkTicks(labels, lo, hi){
  const maj = labels.map(Number);
  const step = maj.length > 1 ? maj[1] - maj[0] : (hi - lo);
  const out = maj.map((v, i) => ({value: v, mj: true, lbl: labels[i]}));
  for (let k = 0; k < 100; k++) {
    const v = maj[0] - step / 2 + k * step;
    if (v > hi) break;
    if (v >= lo) out.push({value: v, mj: false, lbl: ''});
  }
  out.sort((a, b) => a.value - b.value);
  return out;
}

const framePlugin = {
  id: 'panelFrame',
  afterDatasetsDraw(chart){
    const {ctx, chartArea: a} = chart;
    ctx.save();
    ctx.strokeStyle = '#333333';
    ctx.lineWidth = 1;
    ctx.strokeRect(Math.round(a.left) - 0.5, Math.round(a.top) - 0.5,
                   Math.round(a.right - a.left) + 1, Math.round(a.bottom - a.top) + 1);
    ctx.restore();
  }
};

function axis(labels, lo, hi, isX){
  return {
    type: 'linear', min: lo, max: hi,
    afterBuildTicks: sc => { sc.ticks = mkTicks(labels, lo, hi); },
    afterFit: sc => { if (isX) sc.height = XAXH; else sc.width = YAXW; },
    ticks: {autoSkip: false, maxRotation: 0, minRotation: 0, padding: 1, color: '#4d4d4d',
            font: {size: 6}, callback: (v, idx, t) => t[idx].lbl},
    grid: {color: '#ebebeb', lineWidth: c => (c.tick && c.tick.mj) ? 0.9 : 0.45,
           drawTicks: true, tickLength: 2, tickWidth: 0.8,
           tickColor: c => (c.tick && c.tick.mj) ? '#333333' : 'rgba(0,0,0,0)'},
    border: {display: false}
  };
}

animals.forEach((name, i) => {
  const r = Math.floor(i / 10), c = i % 10;
  const L = COL_LEFT[c];
  const PT = 16 + 77 * r, PB = 63 + 77 * r, PH = PB - PT;

  const strip = document.createElement('div');
  strip.className = 'strip';
  strip.style.left = (L - 1) + 'px';
  strip.style.top = (PT - STRIP_H) + 'px';
  strip.style.width = (PW + 2) + 'px';
  strip.style.height = STRIP_H + 'px';
  const sp = document.createElement('span');
  sp.textContent = name;
  strip.appendChild(sp);
  document.body.appendChild(strip);

  const W = YAXW + PW + PADR, H = PADT + PH + XAXH;
  const cv = document.createElement('canvas');
  cv.width = W; cv.height = H;
  cv.style.left = (L - YAXW) + 'px';
  cv.style.top = (PT - PADT) + 'px';
  cv.style.width = W + 'px';
  cv.style.height = H + 'px';
  document.body.appendChild(cv);

  const xs = curveX[i], red = redCurves[i], blk = blackCurves[i];
  const xlo = Math.min(xs[0], red[0][0]);
  const xhi = Math.max(xs[xs.length - 1], red[red.length - 1][0]);
  const ytop = Math.max(...red.map(p => p[1]), ...blk.flat());
  const xpad = (xhi - xlo) * 0.05, ypad = ytop * 0.05;

  const common = {pointRadius: 0, fill: false, cubicInterpolationMode: 'monotone'};
  const datasets = [Object.assign({data: red.map(p => ({x: p[0], y: p[1]})),
                     borderColor: '#ff0000', borderWidth: 1.3}, common)];
  blk.forEach(cy => datasets.push(Object.assign({data: xs.map((x, k) => ({x: x, y: cy[k]})),
                     borderColor: '#000000', borderWidth: 1.2}, common)));

  new Chart(cv, {
    type: 'line',
    data: {datasets},
    options: {
      responsive: false, animation: false, events: [], devicePixelRatio: 1,
      layout: {padding: {left: 0, right: PADR, top: PADT, bottom: 0}},
      plugins: {legend: {display: false}, tooltip: {enabled: false}},
      scales: {
        x: axis(xTickLabels[i], xlo - xpad, xhi + xpad, true),
        y: axis(yTickLabels[i], -ypad, ytop + ypad, false)
      }
    },
    plugins: [framePlugin]
  });
});
</script>
</body>
</html>
